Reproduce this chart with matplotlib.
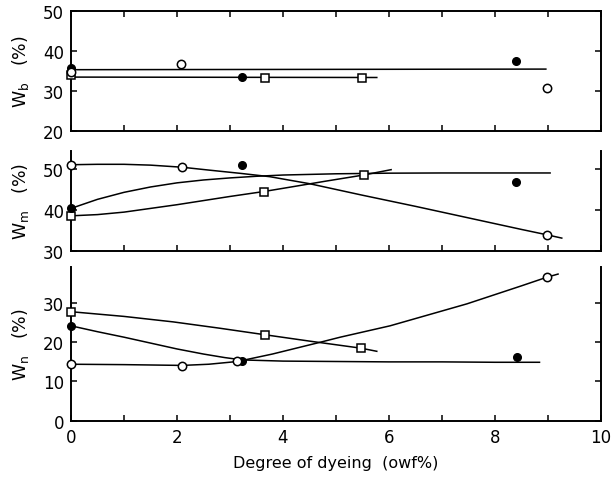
import numpy as np
import matplotlib
matplotlib.use("Agg")
import matplotlib.pyplot as plt

# ---- data ----
# top panel, W_b
wb_open_x = [0, 2.08, 8.98]
wb_open = [34.6, 36.6, 30.6]
wb_fill_x = [0, 3.23, 8.40]
wb_fill = [35.7, 33.3, 37.5]
wb_sq_x = [0, 3.67, 5.50]
wb_sq = [33.8, 33.25, 33.25]
wb_line1_x = [0, 8.96]
wb_line1 = [35.25, 35.4]
wb_line2_x = [0, 5.77]
wb_line2 = [33.4, 33.3]

# middle panel, W_m
wm_open_x = [0, 2.09, 8.98]
wm_open = [51.0, 50.4, 34.0]
wm_fill_x = [0, 3.23, 8.40]
wm_fill = [40.4, 51.0, 46.7]
wm_sq_x = [0, 3.64, 5.52]
wm_sq = [38.6, 44.5, 48.5]
wm_open_cx = [0, 0.5, 1, 1.5, 2.09, 2.6, 3.2, 3.75, 4.5, 5.5, 6.5, 7.5, 8.5, 8.98, 9.26]
wm_open_cy = [51.0, 51.1, 51.1, 50.9, 50.4, 49.7, 48.9, 48.1, 46.4, 43.6, 40.9, 38.1, 35.3, 34.0, 33.2]
wm_fill_cx = [0, 0.5, 1, 1.5, 2, 2.5, 3, 3.5, 4, 5, 6, 7, 8, 9.04]
wm_fill_cy = [40.4, 42.6, 44.3, 45.6, 46.6, 47.3, 47.8, 48.2, 48.5, 48.8, 48.95, 49.0, 49.0, 49.0]
wm_sq_cx = [0, 0.5, 1, 1.5, 2, 2.5, 3, 3.64, 4.2, 4.8, 5.52, 6.04]
wm_sq_cy = [38.6, 38.9, 39.5, 40.4, 41.3, 42.3, 43.3, 44.5, 45.7, 47.0, 48.5, 49.8]

# bottom panel, W_n
wn_open_x = [0, 2.10, 3.14, 8.98]
wn_open = [14.5, 14.0, 15.1, 36.6]
wn_fill_x = [0, 3.23, 8.41]
wn_fill = [24.2, 15.3, 16.3]
wn_sq_x = [0, 3.67, 5.47]
wn_sq = [27.8, 21.9, 18.5]
wn_open_cx = [0, 1, 2.1, 2.6, 3.14, 3.8, 4.7, 5.08, 6.02, 7.47, 8.5, 8.98, 9.19]
wn_open_cy = [14.4, 14.3, 14.1, 14.4, 15.1, 17.0, 20.0, 21.3, 24.2, 29.8, 34.4, 36.6, 37.4]
wn_fill_cx = [0, 0.5, 1, 1.5, 2, 2.5, 2.9, 3.23, 4, 5, 6, 7, 8, 8.84]
wn_fill_cy = [24.2, 22.7, 21.3, 19.8, 18.3, 17.0, 16.1, 15.5, 15.2, 15.1, 15.0, 15.0, 14.9, 14.9]
wn_sq_cx = [0, 1, 1.93, 2.8, 3.67, 4.5, 5.47, 5.77]
wn_sq_cy = [27.8, 26.6, 25.2, 23.6, 21.9, 20.3, 18.5, 17.7]

xticks = list(range(11))
xticklabels = ["0", "", "2", "", "4", "", "6", "", "8", "", "10"]

fig = plt.figure(figsize=(6.13, 4.81), dpi=100)
left, width = 0.1158, 0.8646
ax1 = fig.add_axes([left, 0.7262, width, 0.2495])
ax2 = fig.add_axes([left, 0.4755, width, 0.2091])
ax3 = fig.add_axes([left, 0.1233, width, 0.3195])

lw = 1.1
open_kw = dict(ls="none", marker="o", ms=6, mfc="white", mec="black", mew=1.1, zorder=3, clip_on=False)
fill_kw = dict(ls="none", marker="o", ms=5.5, mfc="black", mec="black", zorder=3, clip_on=False)
sq_kw = dict(ls="none", marker="s", ms=5.5, mfc="white", mec="black", mew=1.1, zorder=3, clip_on=False)

# top
ax1.plot(wb_line1_x, wb_line1, color="black", lw=lw)
ax1.plot(wb_line2_x, wb_line2, color="black", lw=lw)
ax1.plot(wb_sq_x, wb_sq, **sq_kw)
ax1.plot(wb_fill_x, wb_fill, **fill_kw)
ax1.plot(wb_open_x, wb_open, **open_kw)
ax1.set_ylim(20, 50)
ax1.set_yticks([20, 30, 40, 50])

# middle
ax2.plot(wm_open_cx, wm_open_cy, color="black", lw=lw)
ax2.plot(wm_fill_cx, wm_fill_cy, color="black", lw=lw)
ax2.plot(wm_sq_cx, wm_sq_cy, color="black", lw=lw)
ax2.plot(wm_sq_x, wm_sq, **sq_kw)
ax2.plot(wm_fill_x, wm_fill, **fill_kw)
ax2.plot(wm_open_x, wm_open, **open_kw)
ax2.set_ylim(30, 54.4)
ax2.set_yticks([30, 40, 50])

# bottom
ax3.plot(wn_open_cx, wn_open_cy, color="black", lw=lw)
ax3.plot(wn_fill_cx, wn_fill_cy, color="black", lw=lw)
ax3.plot(wn_sq_cx, wn_sq_cy, color="black", lw=lw)
ax3.plot(wn_sq_x, wn_sq, **sq_kw)
ax3.plot(wn_fill_x, wn_fill, **fill_kw)
ax3.plot(wn_open_x, wn_open, **open_kw)
ax3.set_ylim(0, 39.2)
ax3.set_yticks([0, 10, 20, 30])

labels = [r"W$_\mathregular{b}$   (%)", r"W$_\mathregular{m}$   (%)", r"W$_\mathregular{n}$   (%)"]
for ax, lab in zip([ax1, ax2, ax3], labels):
    ax.set_xlim(0, 10)
    ax.set_xticks(xticks)
    ax.set_xticklabels(xticklabels if ax is ax3 else [])
    for s in ax.spines.values():
        s.set_linewidth(1.4)
    ax.tick_params(direction="in", length=4, width=1.1, labelsize=12,
                   right=True, top=(ax is ax1), pad=5)
    ax.set_ylabel(lab, fontsize=12.5)
    ax.yaxis.set_label_coords(-0.075, 0.5)

ax2.spines["top"].set_visible(False)
ax3.spines["top"].set_visible(False)

ax3.set_xlabel("Degree of dyeing  (owf%)", fontsize=11.5, labelpad=7)

fig.savefig("out.png", dpi=100)
